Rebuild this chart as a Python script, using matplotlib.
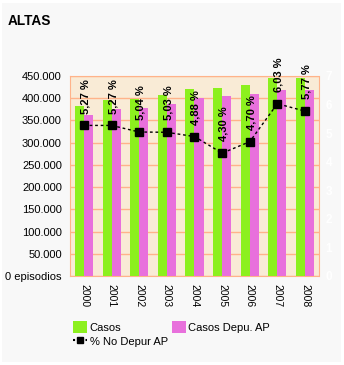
import matplotlib
matplotlib.use("Agg")
import matplotlib.pyplot as plt
import numpy as np
from matplotlib.patches import Patch, Rectangle
from matplotlib.lines import Line2D

plt.rcParams['font.family'] = ['Liberation Sans', 'DejaVu Sans']

years = ['2000', '2001', '2002', '2003', '2004', '2005', '2006', '2007', '2008']
casos = [383000, 397000, 398000, 408000, 421000, 423000, 430000, 446000, 446000]
casos_depu = [362000, 375000, 379000, 388000, 400000, 405000, 410000, 418000, 418000]
pct_no_depur = [5.27, 5.27, 5.04, 5.03, 4.88, 4.30, 4.70, 6.03, 5.77]
pct_labels = ['5,27 %', '5,27 %', '5,04 %', '5,03 %', '4,88 %', '4,30 %', '4,70 %', '6,03 %', '5,77 %']
left_ticks = [0, 50000, 100000, 150000, 200000, 250000, 300000, 350000, 400000, 450000]
left_ticklabels = ['0 episodios', '50.000', '100.000', '150.000', '200.000', '250.000',
                   '300.000', '350.000', '400.000', '450.000']
right_ticks = [0, 1, 2, 3, 4, 5, 6, 7]

GREEN = '#8cf01e'
PINK = '#e870dc'
GRID = '#ffb38a'
PLOTBG = '#f9ebd6'

W, H = 344, 365
fig = plt.figure(figsize=(W / 100, H / 100), dpi=100)
fig.patch.set_facecolor('white')
fig.patches.append(Rectangle((2 / W, 3 / H), 339 / W, 359 / H, transform=fig.transFigure,
                             facecolor='#f8f8f8', edgecolor='none', zorder=-10))

ax = fig.add_axes([70.2 / W, 1 - 276 / H, 248.6 / W, 200 / H])
ax.set_facecolor(PLOTBG)
x = np.arange(len(years))
bw = 0.326
ax.bar(x - bw / 2, casos, width=bw, color=GREEN, zorder=3)
ax.bar(x + bw / 2, casos_depu, width=bw, color=PINK, zorder=3)
ax.set_xlim(-0.5, len(years) - 0.5)
ax.set_ylim(0, 450000)
ax.set_yticks(left_ticks)
ax.set_yticklabels(left_ticklabels, fontsize=8)
ax.set_xticks(x)
ax.set_xticklabels(years, rotation=270, fontsize=7.5)
ax.tick_params(axis='both', length=0)
ax.tick_params(axis='y', pad=6)
ax.tick_params(axis='x', pad=6)
ax.grid(axis='y', color=GRID, linewidth=1, zorder=1)
for s in ['left', 'top']:
    ax.spines[s].set_color(GRID)
for s in ['bottom', 'right']:
    ax.spines[s].set_color(GRID)
    ax.spines[s].set_linestyle((0, (2, 1)))

ax2 = ax.twinx()
ax2.set_ylim(0, 7)
ax2.set_yticks(right_ticks)
ax2.set_yticklabels([str(t) for t in right_ticks], color='white', fontsize=8.5, fontweight='bold')
ax2.tick_params(axis='y', length=0, pad=5)
for s in ax2.spines.values():
    s.set_visible(False)
ax2.plot(x, pct_no_depur, color='black', linestyle=(0, (2, 2)), linewidth=1,
         marker='s', markersize=5.5, zorder=5)
for xi, v, lab in zip(x, pct_no_depur, pct_labels):
    ax2.annotate(lab, (xi, v), xytext=(1, 8.5), textcoords='offset points',
                 rotation=90, ha='center', va='bottom', fontsize=8, fontweight='bold',
                 color='black', annotation_clip=False)

fig.text(8 / W, 1 - 25 / H, 'ALTAS', fontsize=9.8, fontweight='bold', va='baseline', ha='left')

handles = [Patch(facecolor=GREEN, edgecolor='none', label='Casos'),
           Line2D([0], [0], color='black', linestyle=(0, (1, 1)), marker='s', markersize=5,
                  label='% No Depur AP'),
           Patch(facecolor=PINK, edgecolor='none', label='Casos Depu. AP')]
fig.legend(handles=handles, ncol=2, loc='upper left', bbox_to_anchor=(73 / W, 1 - 321 / H),
           frameon=False, fontsize=8, handlelength=1.3, handleheight=1.3, handletextpad=0.2,
           columnspacing=0.35, labelspacing=0.2, borderpad=0, borderaxespad=0)

fig.savefig('out.png', dpi=100, facecolor=fig.get_facecolor())
